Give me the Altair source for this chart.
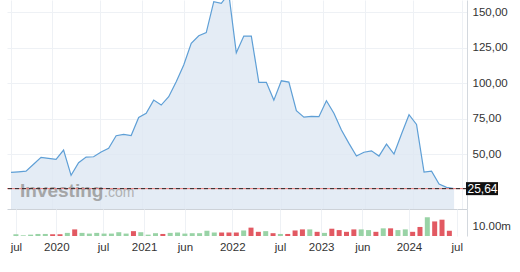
import altair as alt
import pandas as pd

# ---------------- data ----------------
months = pd.date_range("2019-07-01", periods=60, freq="MS").strftime("%Y-%m").tolist()

price = [37.1, 37.5, 38.0, 42.8, 47.7, 47.0, 46.3, 52.8, 35.0, 43.9,
         47.9, 48.1, 51.4, 54.0, 62.9, 63.8, 63.0, 75.8, 78.7, 88.0,
         84.5, 90.4, 100.9, 112.7, 128.0, 133.3, 135.5, 157.3, 156.1, 163.0,
         121.3, 133.1, 133.1, 100.5, 100.5, 88.0, 101.6, 100.7, 80.5, 76.0,
         76.5, 76.3, 87.5, 78.7, 66.9, 57.5, 48.6, 51.3, 52.3, 48.6,
         57.0, 50.0, 64.1, 77.7, 70.9, 37.3, 38.0, 28.9, 26.5, 25.64]

volume_m = [1.8, 0.7, 1.4, 2.1, 2.1, 1.8, 1.8, 3.2, 6.8, 3.2,
            2.5, 3.2, 2.5, 2.5, 3.9, 2.5, 5.0, 3.9, 1.4, 2.9,
            2.1, 3.2, 3.6, 2.5, 2.9, 2.9, 5.4, 3.6, 3.6, 3.6,
            3.6, 5.7, 8.6, 4.3, 5.0, 2.9, 2.1, 2.1, 5.7, 6.8,
            6.8, 4.3, 3.2, 7.5, 6.1, 4.3, 6.8, 6.8, 6.1, 4.3,
            7.9, 7.9, 6.1, 6.8, 4.3, 9.3, 19.3, 15.0, 16.8, 5.4]

direction = ["up", "up", "up", "up", "up", "down", "down", "up", "down", "up",
             "up", "up", "up", "up", "up", "up", "down", "up", "up", "up",
             "down", "up", "up", "up", "up", "up", "up", "up", "down", "down",
             "down", "up", "down", "down", "up", "down", "up", "down", "down", "down",
             "up", "down", "up", "down", "down", "down", "down", "up", "up", "down",
             "up", "down", "up", "up", "down", "down", "up", "down", "down", "down"]

tick_pos = [0, 5.5, 11.85, 17.45, 23, 29.45, 35.95, 41.55, 47.15, 53.5, 60]
tick_labels = ["jul", "2020", "jul", "2021", "jun", "2022", "jul", "2023", "jun", "2024", "jul"]

price_ticks = [50, 75, 100, 125, 150]
volume_ticks = [10]
last_price = 25.64
last_label = "25,64"

# ---------------- styling ----------------
FONT = "Liberation Sans"
LINE = "#5e9fd6"
FILL = "#dde7f2"
GREEN = "#93d1a1"
RED = "#e0505a"
GRID = "#eef1f5"
DOMAIN = "#d3d8de"
W = 460
H_PRICE = 209
H_VOL = 27

df = pd.DataFrame({"i": list(range(len(price))), "month": months,
                   "price": price, "vol": volume_m, "dir": direction})

x_scale = alt.Scale(domain=[-0.533, 60.72], nice=False, zero=False)
pos_js = "[" + ",".join(str(v) for v in tick_pos) + "]"
lab_js = "[" + ",".join("'" + s + "'" for s in tick_labels) + "]"
x_label_expr = f"{lab_js}[indexof({pos_js}, datum.value)]"

# ---------------- price panel ----------------
x_top = alt.X("i:Q", scale=x_scale,
              axis=alt.Axis(values=tick_pos, labels=False, ticks=False, domain=True,
                            domainColor="#cdd2d8", grid=True, gridColor=GRID, title=None))
y_price = alt.Y("price:Q", scale=alt.Scale(domain=[11.3, 158.5], nice=False, zero=False),
                axis=alt.Axis(orient="right", values=price_ticks,
                              labelExpr="replace(format(datum.value, '.2f'), '.', ',')",
                              grid=True, gridColor=GRID, ticks=False, domain=True,
                              domainColor=DOMAIN, labelPadding=5, labelFontSize=11.5,
                              labelColor="#333333", labelFont=FONT, title=None))

area = alt.Chart(df).mark_area(color=FILL, opacity=0.8, clip=True).encode(
    x=x_top, y=y_price, y2=alt.value(H_PRICE))
line = alt.Chart(df).mark_line(color=LINE, strokeWidth=1.2, clip=True).encode(
    x="i:Q", y="price:Q")

last_df = pd.DataFrame({"price": [last_price], "label": [last_label]})
rule_red = alt.Chart(last_df).mark_rule(color="#ef7b7b", strokeWidth=1).encode(y="price:Q")
rule_dash = alt.Chart(last_df).mark_rule(color="#2b2b2b", strokeWidth=1,
                                         strokeDash=[4, 3]).encode(y="price:Q")
box = alt.Chart(last_df).mark_rule(color="#111111", strokeWidth=13, strokeCap="butt").encode(
    y="price:Q", x=alt.value(459), x2=alt.value(491))
box_text = alt.Chart(last_df).mark_text(color="white", font=FONT, fontSize=12,
                                        align="center", baseline="middle").encode(
    y="price:Q", x=alt.value(475.5), text="label:N")

wm_df = pd.DataFrame({"a": ["Investing"], "b": [".com"]})
wm1 = alt.Chart(wm_df).mark_text(color="#9a9a9a", opacity=0.85, font=FONT, fontSize=19,
                                 fontWeight="bold", align="left",
                                 baseline="alphabetic").encode(
    x=alt.value(13), y=alt.value(197), text="a:N")
wm2 = alt.Chart(wm_df).mark_text(color="#a8a8a8", opacity=0.85, font=FONT, fontSize=14,
                                 align="left", baseline="alphabetic").encode(
    x=alt.value(97), y=alt.value(197), text="b:N")

top = alt.layer(area, line, wm1, wm2, rule_red, rule_dash, box, box_text).properties(
    width=W, height=H_PRICE)

# ---------------- volume panel ----------------
vol = alt.Chart(df).mark_bar(size=5, opacity=0.95).encode(
    x=alt.X("i:Q", scale=x_scale,
            axis=alt.Axis(values=tick_pos, labelExpr=x_label_expr, grid=True, gridColor=GRID,
                          ticks=False, domain=False, labelPadding=5, labelFontSize=11.5,
                          labelFlush=False, labelOverlap=False,
                          labelColor="#333333", labelFont=FONT, title=None)),
    y=alt.Y("vol:Q", scale=alt.Scale(domain=[0, 27.8], nice=False),
            axis=alt.Axis(orient="right", values=volume_ticks,
                          labelExpr="format(datum.value, '.2f') + 'm'",
                          grid=False, ticks=False, domain=True, domainColor=DOMAIN,
                          labelPadding=5, labelFontSize=11.5, labelColor="#333333",
                          labelFont=FONT, title=None)),
    color=alt.Color("dir:N", scale=alt.Scale(domain=["up", "down"], range=[GREEN, RED]),
                    legend=None),
).properties(width=W, height=H_VOL)

chart = alt.vconcat(top, vol, spacing=0).resolve_scale(
    x="independent", y="independent").properties(
    padding={"left": 6, "top": 0, "right": 0, "bottom": 0},
    background="white",
).configure_view(stroke=None)

chart.save("out.html", embed_options={"renderer": "svg", "actions": False})
